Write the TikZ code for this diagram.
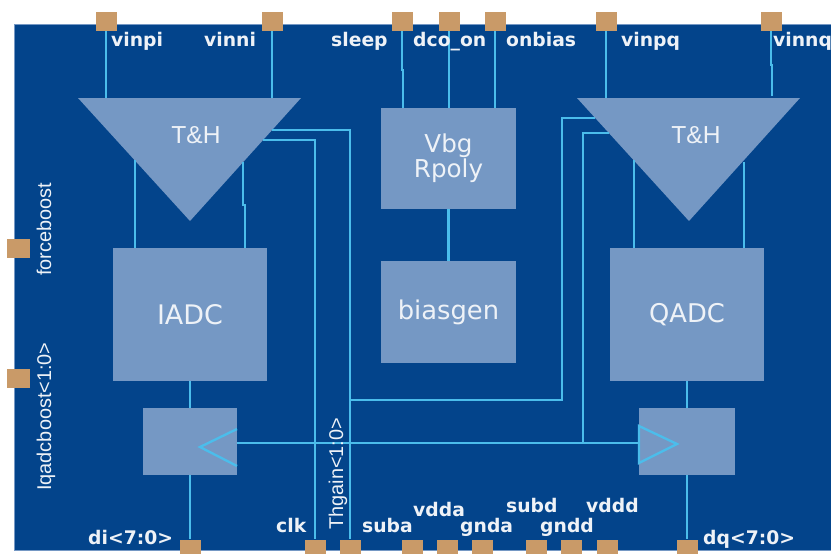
\documentclass[tikz,border=0pt]{standalone}
\usepackage{xcolor}
\usepackage{fontspec}
\setmainfont{DejaVu Sans}
\newfontfamily\arialfont{Liberation Sans}
\definecolor{chipblue}{HTML}{03448B}
\definecolor{blockblue}{HTML}{7598C4}
\definecolor{wireblue}{HTML}{4BBDEB}
\definecolor{padbrown}{HTML}{C99A68}
\definecolor{labelwhite}{HTML}{EEF2F7}
\tikzset{
    pad/.style={fill=padbrown, inner sep=0pt, minimum width=0.63cm, minimum height=0.57cm},
    sidepad/.style={pad, minimum width=0.69cm, minimum height=0.55cm},
    block/.style={fill=blockblue, inner sep=0pt, text=labelwhite, align=center},
    wire/.style={draw=wireblue, line width=2pt},
    pinlabel/.style={text=labelwhite, inner sep=0pt, anchor=base west, font=\fontsize{16}{18}\selectfont\bfseries},
    sidelabel/.style={text=labelwhite, inner sep=0pt, anchor=base west, rotate=90, font=\fontsize{17}{20}\arialfont},
}
\begin{document}
\begin{tikzpicture}[x=0.03cm, y=-0.03cm]

    \useasboundingbox (0,0) rectangle (831,554);
    \fill[white] (0,0) rectangle (831,554);
    \filldraw[fill=chipblue, draw=blockblue, line width=0.8pt] (14,24) rectangle (840,550);

    % pads
    \foreach \name/\x in {vinpi/106, vinni/272, sleep/402, dcoon/449, onbias/495, vinpq/606, vinnq/771}
        \node[pad] (p\name) at (\x,21.5) {};
    \foreach \name/\x in {di/190, clk/315, thgain/350, suba/412, vdda/447, gnda/482, subd/536, gndd/571, vddd/607, dq/687}
        \node[pad] (p\name) at (\x,549) {};
    \node[sidepad] (pforce) at (18.5,248.5) {};
    \node[sidepad] (pboost) at (18.5,378.5) {};

    % blocks
    \fill[blockblue] (78,98) -- (301,98) -- (190,221) -- cycle;
    \fill[blockblue] (577,98) -- (800,98) -- (689,221) -- cycle;
    \node[text=labelwhite, inner sep=0pt, font=\fontsize{21}{22}\arialfont] (thi) at (196,135) {T\&H};
    \node[text=labelwhite, inner sep=0pt, font=\fontsize{21}{22}\arialfont] (thq) at (696,135) {T\&H};

    \node[block, minimum width=4.6cm, minimum height=3.99cm, font=\fontsize{23}{25}\selectfont] (iadc) at (190,314.5) {IADC};
    \node[block, minimum width=4.62cm, minimum height=3.99cm, font=\fontsize{22}{24}\selectfont] (qadc) at (687,314.5) {QADC};
    \node[block, minimum width=4.03cm, minimum height=3.01cm, font=\fontsize{21}{19}\selectfont] (vbg) at (448.5,158.5) {Vbg\\Rpoly};
    \node[block, minimum width=4.03cm, minimum height=3.06cm, font=\fontsize{22}{24}\selectfont] (biasgen) at (448.5,312) {biasgen};
    \node[block, minimum width=2.82cm, minimum height=2.01cm] (ibuf) at (190,441.5) {};
    \node[block, minimum width=2.88cm, minimum height=2.01cm] (qbuf) at (687,441.5) {};

    % ends of the wires on the T&H edges
    \coordinate (thitop) at (0,98);
    \coordinate (thioa) at (135,160);
    \coordinate (thiob) at (243,162);
    \coordinate (thqoa) at (634,160);
    \coordinate (thqob) at (744,162);
    \coordinate (thigain) at (272,130);
    \coordinate (thiclk) at (263,140);
    \coordinate (thqgain) at (595,118);
    \coordinate (thqclk) at (609,133);

    % inputs
    \draw[wire] (pvinpi) -- (pvinpi |- thitop);
    \draw[wire] (pvinni) -- (pvinni |- thitop);
    \draw[wire] (psleep) -- (402,70) -- (403,70) -- (403,108);
    \draw[wire] (pdcoon) -- (pdcoon |- vbg.north);
    \draw[wire] (ponbias) -- (ponbias |- vbg.north);
    \draw[wire] (pvinpq) -- (pvinpq |- thitop);
    \draw[wire] (pvinnq) -- (771,65) -- (772,65) -- (772,96);

    % T&H to ADC
    \draw[wire] (thioa) -- (thioa |- iadc.north);
    \draw[wire] (thiob) -- (243,205) -- (245,205) -- (245,248);
    \draw[wire] (thqoa) -- (thqoa |- qadc.north);
    \draw[wire] (thqob) -- (thqob |- qadc.north);

    % vertical links
    \draw[wire] (vbg) -- (biasgen);
    \draw[wire] (iadc) -- (ibuf);
    \draw[wire] (qadc) -- (qbuf);
    \draw[wire] (ibuf) -- (pdi);
    \draw[wire] (qbuf) -- (pdq);

    % gain and clock
    \draw[wire] (thigain) -- (pthgain |- thigain) -- (pthgain);
    \draw[wire] (thiclk) -- (pclk |- thiclk) -- (pclk);
    \draw[wire] (thqgain) -- (562,118) -- (562,400) -- (pthgain |- 0,400);
    \draw[wire] (thqclk) -- (583,133) -- (583,443);
    \draw[wire] (ibuf.east |- 0,443) -- (qbuf.west |- 0,443);

    % buffers
    \draw[wire] (237,429) -- (200,447) -- (237,466);
    \draw[wire] (639,426) -- (677,444) -- (639,463) -- cycle;

    % labels
    \node[pinlabel] (lvinpi) at (111,46) {vinpi};
    \node[pinlabel] (lvinni) at (204,46) {vinni};
    \node[pinlabel] (lsleep) at (331,46) {sleep};
    \node[pinlabel] (ldcoon) at (413,46) {dco\_on};
    \node[pinlabel] (lonbias) at (506,46) {onbias};
    \node[pinlabel] (lvinpq) at (621,46) {vinpq};
    \node[pinlabel] (lvinnq) at (773,46) {vinnq};

    \node[pinlabel] (ldi) at (88,544) {di<7:0>};
    \node[pinlabel] (lclk) at (276,532) {clk};
    \node[pinlabel] (lsuba) at (362,532) {suba};
    \node[pinlabel] (lvdda) at (413,516) {vdda};
    \node[pinlabel] (lgnda) at (460,532) {gnda};
    \node[pinlabel] (lsubd) at (506,512) {subd};
    \node[pinlabel] (lgndd) at (540,532) {gndd};
    \node[pinlabel] (lvddd) at (586,512) {vddd};
    \node[pinlabel] (ldq) at (703,544) {dq<7:0>};

    \node[sidelabel] (lforce) at (51,276) {forceboost};
    \node[sidelabel] (lboost) at (51,491) {Iqadcboost<1:0>};
    \node[sidelabel] (lthgain) at (343,530) {Thgain<1:0>};

\end{tikzpicture}
\end{document}
